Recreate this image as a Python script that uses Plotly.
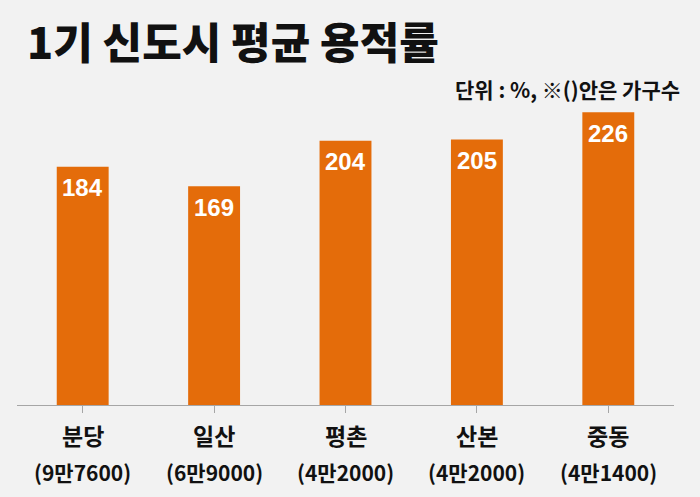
import plotly.graph_objects as go

categories = ["분당", "일산", "평촌", "산본", "중동"]
households = ["(9만7600)", "(6만9000)", "(4만2000)", "(4만2000)", "(4만1400)"]
far_values = [184, 169, 204, 205, 226]

title_text = "1기 신도시 평균 용적률"
unit_text = "단위 : %, ※()안은 가구수"

BG = "#F2F2F2"
BAR = "#E46C0A"
KFONT = "Noto Sans CJK KR"

W, H = 700, 497
L, R, T, B = 17, 26, 100, 92
plot_h = H - T - B

fig = go.Figure()
fig.add_trace(go.Bar(
    x=list(range(len(categories))),
    y=far_values,
    marker=dict(color=BAR, line=dict(width=0)),
    width=0.395,
    hoverinfo="skip",
))

annotations = []
for i, v in enumerate(far_values):
    annotations.append(dict(
        x=i, y=v, xref="x", yref="y", text=str(v), showarrow=False,
        yanchor="middle", xanchor="center", yshift=-21,
        font=dict(family="Liberation Sans, Arial", size=24, color="white", weight="bold"),
    ))
for i, (c, hh) in enumerate(zip(categories, households)):
    annotations.append(dict(
        x=i, y=-(434.5 - (H - B)) / plot_h, xref="x", yref="paper", text=c,
        showarrow=False, yanchor="middle", xanchor="center",
        font=dict(family=KFONT, size=23, color="#111111", weight="bold"),
    ))
    annotations.append(dict(
        x=i, y=-(472 - (H - B)) / plot_h, xref="x", yref="paper", text=hh,
        showarrow=False, yanchor="middle", xanchor="center",
        font=dict(family=KFONT, size=21, color="#111111", weight="bold"),
    ))

annotations.append(dict(
    x=(682 - L) / (W - L - R), y=((H - B) - 89) / plot_h, xref="paper", yref="paper",
    text=unit_text, showarrow=False, xanchor="right", yanchor="middle",
    font=dict(family=KFONT, size=21, color="#111111", weight="bold"),
))

fig.update_layout(
    width=W, height=H,
    margin=dict(l=L, r=R, t=T, b=B),
    paper_bgcolor=BG, plot_bgcolor=BG,
    showlegend=False,
    title=dict(
        text=title_text, x=27 / W, xanchor="left", xref="container",
        y=1 - 44 / H, yanchor="middle", yref="container",
        font=dict(family=KFONT, size=43, color="#111111", weight=900),
    ),
    xaxis=dict(
        range=[-0.5, len(categories) - 0.5],
        tickmode="array", tickvals=list(range(len(categories))),
        showticklabels=False, tickson="boundaries",
        ticks="outside", ticklen=7, tickcolor="#A6A6A6", tickwidth=1,
        showline=True, linecolor="#A6A6A6", linewidth=1,
        showgrid=False, zeroline=False, fixedrange=True,
    ),
    yaxis=dict(
        range=[0, plot_h / 1.295], visible=False, showgrid=False, zeroline=False,
    ),
    annotations=annotations,
)

fig.write_html("out.html")
